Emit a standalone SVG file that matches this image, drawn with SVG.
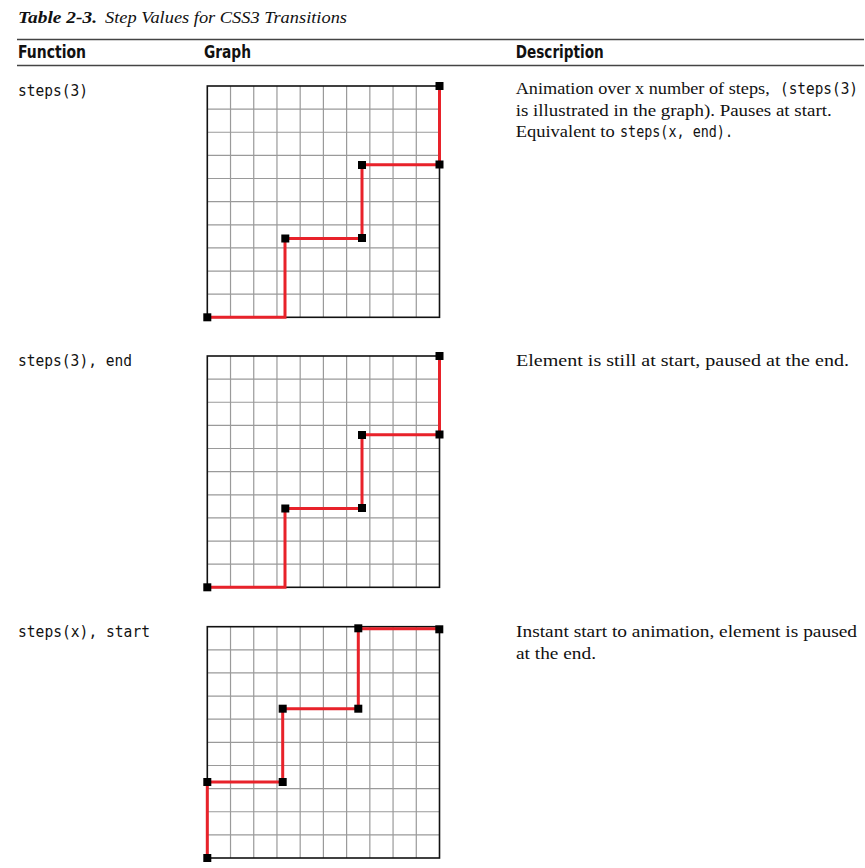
<svg xmlns="http://www.w3.org/2000/svg" xmlns:xlink="http://www.w3.org/1999/xlink" width="865" height="868" viewBox="0 0 865 868">
<style>
.title{font-family:"Liberation Serif","Times New Roman",serif;font-size:17px;font-style:italic;fill:#111}
.titleb{font-weight:bold}
.hdr{font-family:"Liberation Sans Narrow","DejaVu Sans Condensed","Liberation Sans",sans-serif;font-stretch:condensed;font-weight:bold;font-size:17.5px;fill:#111}
.mono{font-family:"DejaVu Sans Mono","Liberation Mono",monospace;font-size:16px;fill:#111}
.dmono{font-family:"DejaVu Sans Mono","Liberation Mono",monospace;font-size:15.5px;fill:#111}
.desc{font-family:"Liberation Serif","Times New Roman",serif;font-size:16.5px;fill:#111}
.rule{stroke:#444;stroke-width:1.5}
.grid{stroke:#9a9a9a;stroke-width:1.2;fill:none}
.frame{stroke:#111;stroke-width:1.6;fill:none}
.step{stroke:#e8222a;stroke-width:3;fill:none;stroke-linejoin:miter}
.pt{fill:#000}
</style>
<defs>
<g id="gridbase">
<path class="grid" d="M23.22,0V231.3M46.44,0V231.3M69.66,0V231.3M92.88,0V231.3M116.1,0V231.3M139.32,0V231.3M162.54,0V231.3M185.76,0V231.3M208.98,0V231.3M0,23.13H232.2M0,46.26H232.2M0,69.39H232.2M0,92.52H232.2M0,115.65H232.2M0,138.78H232.2M0,161.91H232.2M0,185.04H232.2M0,208.17H232.2"/>
<rect class="frame" x="0" y="0" width="232.2" height="231.3"/>
</g>
<rect id="sq" x="-4" y="-4" width="8" height="8"/>
</defs>

<g id="title">
<text class="title titleb" x="18" y="23.3" textLength="79" lengthAdjust="spacingAndGlyphs">Table 2-3.</text>
<text class="title" x="105" y="23.3" textLength="242" lengthAdjust="spacingAndGlyphs">Step Values for CSS3 Transitions</text>
</g>

<g id="header">
<line class="rule" x1="17" y1="39.5" x2="864" y2="39.5"/>
<line class="rule" x1="17" y1="65.5" x2="864" y2="65.5"/>
<text class="hdr" x="18" y="58.3" textLength="68" lengthAdjust="spacingAndGlyphs">Function</text>
<text class="hdr" x="204" y="58.3" textLength="47" lengthAdjust="spacingAndGlyphs">Graph</text>
<text class="hdr" x="515.7" y="58.3" textLength="88" lengthAdjust="spacingAndGlyphs">Description</text>
</g>

<g id="row1">
<text class="mono" x="18" y="96" textLength="70" lengthAdjust="spacingAndGlyphs">steps(3)</text>
<g id="graph1" transform="translate(207.3,86)">
<use xlink:href="#gridbase"/>
<g id="connectors1">
<path class="step" d="M0,231.3H77.7V152.5H154.7V78.7H232.2V0"/>
</g>
<g class="pt">
<use xlink:href="#sq" x="0" y="231.3"/>
<use xlink:href="#sq" x="78" y="152.5"/>
<use xlink:href="#sq" x="154.7" y="152"/>
<use xlink:href="#sq" x="154.7" y="79"/>
<use xlink:href="#sq" x="232.2" y="78.5"/>
<use xlink:href="#sq" x="232.2" y="0"/>
</g>
</g>
<text class="desc" x="515.7" y="94" textLength="254" lengthAdjust="spacingAndGlyphs">Animation over x number of steps,</text>
<text class="dmono" x="780" y="94" textLength="78" lengthAdjust="spacingAndGlyphs">(steps(3)</text>
<text class="desc" x="515.7" y="115.5" textLength="316" lengthAdjust="spacingAndGlyphs">is illustrated in the graph). Pauses at start.</text>
<text class="desc" x="515.7" y="137" textLength="99" lengthAdjust="spacingAndGlyphs">Equivalent to</text>
<text class="dmono" x="620" y="137" textLength="113" lengthAdjust="spacingAndGlyphs">steps(x, end).</text>
</g>

<g id="row2">
<text class="mono" x="18" y="365.5" textLength="114" lengthAdjust="spacingAndGlyphs">steps(3), end</text>
<g id="graph2" transform="translate(207.3,356)">
<use xlink:href="#gridbase"/>
<g id="connectors2">
<path class="step" d="M0,231.3H77.7V152.5H154.7V78.7H232.2V0"/>
</g>
<g class="pt">
<use xlink:href="#sq" x="0" y="231.3"/>
<use xlink:href="#sq" x="78" y="152.5"/>
<use xlink:href="#sq" x="154.7" y="152"/>
<use xlink:href="#sq" x="154.7" y="79"/>
<use xlink:href="#sq" x="232.2" y="78.5"/>
<use xlink:href="#sq" x="232.2" y="0"/>
</g>
</g>
<text class="desc" x="516" y="366" textLength="333" lengthAdjust="spacingAndGlyphs">Element is still at start, paused at the end.</text>
</g>

<g id="row3">
<text class="mono" x="18" y="636.5" textLength="132" lengthAdjust="spacingAndGlyphs">steps(x), start</text>
<g id="graph3" transform="translate(207.3,626.7)">
<use xlink:href="#gridbase"/>
<g id="connectors3">
<path class="step" d="M0,231.3V155.3H75.4V82H151V2H232.2"/>
</g>
<g class="pt">
<use xlink:href="#sq" x="0" y="231.3"/>
<use xlink:href="#sq" x="0" y="155.3"/>
<use xlink:href="#sq" x="75.4" y="155.3"/>
<use xlink:href="#sq" x="75.4" y="82"/>
<use xlink:href="#sq" x="151" y="82"/>
<use xlink:href="#sq" x="151" y="1.6"/>
<use xlink:href="#sq" x="232" y="2.6"/>
</g>
</g>
<text class="desc" x="516" y="637" textLength="341" lengthAdjust="spacingAndGlyphs">Instant start to animation, element is paused</text>
<text class="desc" x="516" y="658.5" textLength="80" lengthAdjust="spacingAndGlyphs">at the end.</text>
</g>
</svg>
